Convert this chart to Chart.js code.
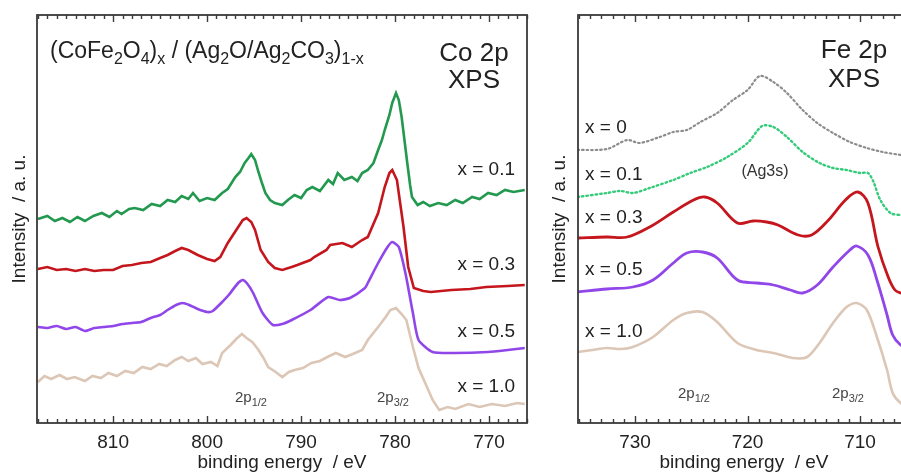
<!DOCTYPE html>
<html>
<head>
<meta charset="utf-8">
<script src="https://cdn.jsdelivr.net/npm/chart.js@4.4.1/dist/chart.umd.min.js"></script>
<style>
html, body { margin: 0; padding: 0; background: #fff; overflow: hidden; width: 901px; height: 473px; }
#co { position: absolute; left: 0; top: 0; }
#fe { position: absolute; left: 540px; top: 0; }
</style>
</head>
<body>
<canvas id="co" width="540" height="473"></canvas>
<canvas id="fe" width="380" height="473"></canvas>
<script>
// Co 2p spectra: [binding energy eV, intensity a.u.]
const coX01 = [
  [818.0, 204], [817.0, 207], [816.2, 202], [815.4, 205], [814.6, 201], [813.8, 206], [813.0, 202],
  [812.1, 207], [811.2, 210], [810.4, 206], [809.6, 212], [809.1, 209], [808.3, 214], [807.7, 215],
  [806.8, 213], [805.9, 219], [805.0, 217], [804.2, 223], [803.4, 221], [802.7, 227], [802.0, 224],
  [801.5, 230], [800.8, 222], [800.0, 225], [799.2, 223], [798.4, 230], [797.8, 234], [797.0, 246],
  [796.5, 251], [796.0, 260], [795.6, 265], [795.3, 269], [794.9, 263], [794.6, 253], [794.2, 241],
  [793.8, 230], [793.3, 223], [792.8, 220], [792.0, 218], [791.4, 223], [790.7, 228], [790.0, 225],
  [789.4, 233], [788.8, 236], [788.0, 232], [787.1, 243], [786.6, 239], [786.1, 250], [785.4, 243],
  [784.6, 246], [784.0, 242], [783.5, 250], [782.9, 253], [782.3, 260], [781.8, 273], [781.4, 283],
  [781.1, 293], [780.6, 308], [780.3, 320], [779.9, 330], [779.6, 323], [779.3, 306], [779.0, 283],
  [778.7, 260], [778.4, 238], [778.2, 226], [777.6, 218], [777.0, 221], [776.3, 217], [775.4, 220],
  [774.5, 218], [773.6, 223], [772.8, 220], [771.8, 226], [771.0, 224], [770.1, 230], [769.2, 228],
  [768.3, 233], [767.4, 231], [766.2, 233]
];
const coX03 = [
  [818.0, 154], [817.0, 156], [816.0, 153], [815.0, 154], [814.0, 152], [813.0, 154], [812.0, 152],
  [811.0, 153], [810.0, 153], [809.0, 157], [808.0, 158], [807.0, 160], [806.0, 161], [805.0, 165],
  [804.2, 168], [803.4, 172], [802.7, 175], [802.0, 173], [801.0, 168], [800.0, 164], [799.2, 162],
  [798.6, 166], [797.8, 180], [796.9, 193], [796.2, 203], [795.8, 205], [795.3, 201], [794.9, 193],
  [794.3, 173], [793.5, 161], [792.8, 155], [792.0, 153], [791.0, 156], [790.4, 158], [789.0, 163],
  [788.6, 166], [787.3, 173], [786.9, 178], [785.6, 180], [784.6, 176], [783.5, 183], [782.9, 186],
  [781.8, 210], [781.1, 236], [780.6, 250], [780.3, 253], [779.8, 243], [779.1, 196], [778.6, 156],
  [778.0, 135], [777.0, 132], [776.2, 131], [774.0, 133], [772.0, 134], [770.3, 136], [768.0, 137],
  [766.2, 138]
];
const coX05 = [
  [818.0, 96], [817.0, 95], [816.0, 97], [815.0, 94], [814.0, 96], [813.0, 92], [812.0, 95],
  [811.0, 96], [810.0, 97], [809.0, 99], [808.0, 100], [807.0, 101], [806.0, 105], [805.0, 108],
  [804.2, 113], [803.3, 118], [802.6, 120], [801.9, 118], [801.0, 114], [800.0, 111], [799.4, 112],
  [798.5, 120], [797.7, 128], [796.7, 140], [796.2, 143], [795.7, 139], [795.1, 130], [794.1, 110],
  [793.0, 98], [792.0, 99], [791.0, 103], [789.0, 113], [787.1, 126], [785.9, 123], [784.8, 125],
  [783.2, 135], [782.9, 140], [781.8, 160], [780.8, 176], [780.3, 181], [779.6, 176], [778.9, 150],
  [778.1, 110], [777.5, 83], [776.0, 71], [773.6, 70], [770.1, 71], [768.0, 73], [766.2, 75]
];
const coX10 = [
  [818.0, 41], [817.3, 47], [816.6, 44], [815.7, 48], [814.9, 44], [814.1, 46], [813.0, 42],
  [812.2, 47], [811.3, 45], [810.5, 50], [809.6, 47], [808.7, 52], [807.8, 50], [806.9, 56],
  [806.0, 54], [805.1, 59], [804.3, 57], [803.4, 63], [802.7, 66], [802.0, 62], [801.2, 65],
  [800.5, 59], [799.6, 61], [798.9, 57], [798.4, 70], [797.5, 78], [796.9, 84], [796.3, 89],
  [795.8, 85], [795.2, 81], [794.6, 74], [794.0, 65], [793.5, 56], [792.7, 51], [792.0, 46],
  [791.3, 51], [790.7, 53], [789.8, 55], [788.9, 60], [788.0, 62], [787.0, 67], [786.3, 70],
  [785.3, 66], [784.5, 69], [783.5, 73], [782.9, 83], [781.8, 96], [781.0, 106], [780.5, 113],
  [779.9, 115], [779.3, 109], [778.8, 103], [778.1, 76], [777.5, 55], [776.7, 38], [776.0, 23],
  [775.3, 13], [774.4, 16], [773.6, 14], [772.2, 19], [771.0, 16], [769.7, 19], [768.3, 17],
  [767.0, 20], [766.2, 19]
];

// Fe 2p spectra
const feX00 = [
  [735.1, 273], [732.5, 274], [730.7, 283], [729.6, 280], [727.8, 286], [726.6, 291], [725.4, 293],
  [724.2, 301], [722.7, 310], [721.3, 323], [720.0, 333], [718.9, 347], [717.7, 341], [716.5, 330],
  [715.1, 313], [713.8, 300], [712.4, 290], [710.9, 281], [709.4, 275], [708.0, 271], [706.4, 268],
  [705.5, 266]
];
const feX01 = [
  [735.1, 226], [732.5, 230], [731.3, 232], [730.2, 230], [728.7, 235], [726.6, 243], [725.1, 250],
  [723.6, 256], [721.8, 266], [720.0, 280], [718.7, 297], [717.7, 296], [716.5, 286], [715.1, 271],
  [713.6, 260], [712.4, 255], [711.2, 253], [710.0, 250], [709.3, 250], [708.8, 241], [708.2, 223],
  [707.3, 210], [706.4, 208], [705.5, 207]
];
const feX03 = [
  [735.1, 185], [732.5, 186], [730.7, 186], [728.7, 196], [726.6, 211], [724.8, 223], [723.8, 226],
  [722.7, 220], [720.9, 200], [719.5, 202], [718.3, 201], [717.3, 198], [715.5, 188], [714.3, 188],
  [712.8, 203], [711.3, 223], [710.2, 231], [709.3, 220], [708.4, 176], [707.5, 146], [706.9, 133],
  [706.4, 130], [705.5, 128]
];
const feX05 = [
  [735.1, 131], [732.5, 134], [730.2, 136], [728.4, 143], [726.6, 160], [725.4, 170], [724.0, 171],
  [722.7, 165], [720.9, 143], [719.2, 140], [717.7, 138], [716.2, 133], [715.1, 130], [713.8, 138],
  [712.4, 156], [710.9, 173], [710.3, 177], [709.3, 168], [708.5, 143], [707.6, 108], [707.1, 88],
  [706.4, 78], [705.5, 73]
];
const feX10 = [
  [735.1, 71], [733.8, 73], [732.5, 75], [731.3, 74], [730.2, 76], [728.4, 86], [726.6, 103],
  [725.4, 110], [724.0, 111], [722.7, 101], [720.9, 80], [719.2, 73], [717.7, 70], [716.0, 65],
  [714.7, 66], [713.6, 80], [712.4, 100], [711.2, 116], [710.3, 120], [709.4, 113], [708.5, 86],
  [707.6, 53], [707.1, 30], [706.4, 20], [705.5, 15]
];

const coTicks = [810, 800, 790, 780, 770];
const feTicks = [730, 720, 710];

const FONT = '"Liberation Sans", Arial, sans-serif';
Chart.defaults.font.family = FONT;

const toXY = arr => arr.map(([x, y]) => ({ x, y }));

function drawRich(ctx, x, y, parts, size, sub) {
  let cx = x;
  parts.forEach(([t, s]) => {
    ctx.font = (s ? sub : size) + 'px ' + FONT;
    ctx.fillText(t, cx, s ? y + size * 0.25 : y);
    cx += ctx.measureText(t).width;
  });
}

// frame round the plot plus inward minor (1 eV) and major (10 eV) ticks, top and bottom
const framePlugin = {
  id: 'frame',
  afterDraw(chart) {
    const ctx = chart.ctx;
    const a = chart.chartArea;
    const x = chart.scales.x;
    ctx.save();
    ctx.strokeStyle = '#3a3a3a';
    ctx.lineWidth = 1.8;
    ctx.strokeRect(a.left, a.top, a.right - a.left, a.bottom - a.top);
    ctx.lineWidth = 1.4;
    ctx.beginPath();
    const lo = Math.ceil(Math.min(x.min, x.max));
    const hi = Math.floor(Math.max(x.min, x.max));
    for (let e = lo; e <= hi; e++) {
      const px = Math.round(x.getPixelForValue(e)) + 0.5;
      const len = e % 10 === 0 ? 7 : 4;
      ctx.moveTo(px, a.bottom);
      ctx.lineTo(px, a.bottom - len);
      ctx.moveTo(px, a.top);
      ctx.lineTo(px, a.top + len);
    }
    ctx.stroke();
    ctx.restore();
  }
};

const textPlugin = {
  id: 'panelText',
  afterDraw(chart, args, opts) {
    const { ctx, chartArea: a } = chart;
    ctx.save();
    ctx.textBaseline = 'alphabetic';
    (opts.items || []).forEach(it => {
      ctx.fillStyle = it.color || '#222';
      if (it.parts) {
        ctx.textAlign = 'left';
        drawRich(ctx, a.left + it.x, a.top + it.y, it.parts, it.size, it.sub);
      } else {
        ctx.textAlign = it.align || 'left';
        ctx.font = it.size + 'px ' + FONT;
        ctx.fillText(it.t, a.left + it.x, a.top + it.y);
      }
    });
    ctx.restore();
  }
};

function line(data, color, opts) {
  return Object.assign({
    data: toXY(data), borderColor: color, borderWidth: 2.6,
    pointRadius: 0, fill: false, tension: 0
  }, opts || {});
}

function makeChart(id, datasets, xmin, xmax, ticks, yWidth, padRight, items) {
  return new Chart(document.getElementById(id), {
    type: 'line',
    data: { datasets },
    options: {
      responsive: false,
      animation: false,
      events: [],
      layout: { padding: { top: 15, right: padRight, left: 0, bottom: 0 } },
      plugins: { legend: { display: false }, tooltip: { enabled: false }, panelText: { items } },
      scales: {
        x: {
          type: 'linear', reverse: true, min: xmin, max: xmax,
          grid: { display: false, drawTicks: false },
          border: { display: false },
          afterBuildTicks: s => { s.ticks = ticks.map(v => ({ value: v })); },
          ticks: { color: '#222', font: { size: 19 }, padding: 8 },
          title: { display: true, text: 'binding energy  / eV', color: '#222', font: { size: 19 }, padding: { top: 0, bottom: -1 } },
          afterFit: s => { s.height = 50; }
        },
        y: {
          min: 0, max: 408,
          grid: { display: false, drawTicks: false },
          border: { display: false },
          ticks: { display: false },
          title: { display: true, text: 'Intensity  / a. u.', color: '#222', font: { size: 19 }, padding: { top: 8, bottom: 0 } },
          afterFit: s => { s.width = yWidth; }
        }
      }
    },
    plugins: [framePlugin, textPlugin]
  });
}

makeChart('co', [
  line(coX01, '#22994f'),
  line(coX03, '#c4161c'),
  line(coX05, '#9046e8', { tension: 0.2 }),
  line(coX10, '#dcc6b6')
], 765.96, 818.1, coTicks, 37, 13, [
  { parts: [['(CoFe', 0], ['2', 1], ['O', 0], ['4', 1], [')', 0], ['x', 1], [' / (Ag', 0], ['2', 1],
            ['O/Ag', 0], ['2', 1], ['CO', 0], ['3', 1], [')', 0], ['1-x', 1]], x: 13, y: 43, size: 23, sub: 16 },
  { t: 'Co 2p', x: 437, y: 46, size: 26, align: 'center' },
  { t: 'XPS', x: 437, y: 73, size: 26, align: 'center' },
  { t: 'x = 0.1', x: 478, y: 160, size: 19, align: 'right' },
  { t: 'x = 0.3', x: 478, y: 255, size: 19, align: 'right' },
  { t: 'x = 0.5', x: 478, y: 322, size: 19, align: 'right' },
  { t: 'x = 1.0', x: 478, y: 377, size: 19, align: 'right' },
  { parts: [['2p', 0], ['1/2', 1]], x: 198, y: 387, size: 15, sub: 11, color: '#444' },
  { parts: [['2p', 0], ['3/2', 1]], x: 340, y: 387, size: 15, sub: 11, color: '#444' }
]);

makeChart('fe', [
  line(feX00, '#8c8c8c', { borderDash: [1.5, 3], borderCapStyle: 'round', borderWidth: 2.2, tension: 0.3 }),
  line(feX01, '#34cc7a', { borderDash: [1.5, 3], borderCapStyle: 'round', borderWidth: 2.4, tension: 0.3 }),
  line(feX03, '#c4161c', { borderWidth: 2.8, tension: 0.35 }),
  line(feX05, '#9046e8', { borderWidth: 2.8, tension: 0.35 }),
  line(feX10, '#dcc6b6', { borderWidth: 2.6, tension: 0.3 })
], 705.56, 735.07, feTicks, 38, 10, [
  { t: 'Fe 2p', x: 276, y: 43, size: 26, align: 'center' },
  { t: 'XPS', x: 276, y: 72, size: 26, align: 'center' },
  { t: 'x = 0', x: 7, y: 118, size: 19 },
  { t: 'x = 0.1', x: 7, y: 165, size: 19 },
  { t: 'x = 0.3', x: 7, y: 208, size: 19 },
  { t: 'x = 0.5', x: 7, y: 260, size: 19 },
  { t: 'x = 1.0', x: 7, y: 322, size: 19 },
  { t: '(Ag3s)', x: 187, y: 161, size: 16, align: 'center', color: '#333' },
  { parts: [['2p', 0], ['1/2', 1]], x: 100, y: 383, size: 15, sub: 11, color: '#444' },
  { parts: [['2p', 0], ['3/2', 1]], x: 254, y: 383, size: 15, sub: 11, color: '#444' }
]);
</script>
</body>
</html>
